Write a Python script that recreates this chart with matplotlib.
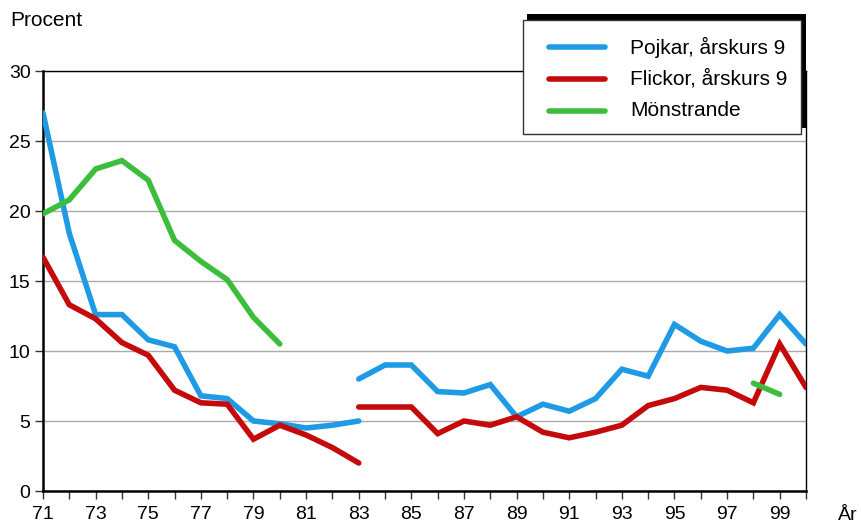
import matplotlib.pyplot as plt
from matplotlib.patches import Rectangle
from matplotlib.lines import Line2D

plt.rcParams['font.family'] = ['Liberation Sans', 'DejaVu Sans']

# serie 1971-1983 och 1983-2000 (brott i serien 1983)
ar_1 = list(range(71, 84))
pojkar_1 = [27.0, 18.4, 12.6, 12.6, 10.8, 10.3, 6.8, 6.6, 5.0, 4.8, 4.5, 4.7, 5.0]
flickor_1 = [16.7, 13.3, 12.3, 10.6, 9.7, 7.2, 6.3, 6.2, 3.7, 4.7, 4.0, 3.1, 2.0]

ar_2 = list(range(83, 101))
pojkar_2 = [8.0, 9.0, 9.0, 7.1, 7.0, 7.6, 5.3, 6.2, 5.7, 6.6, 8.7, 8.2, 11.9, 10.7, 10.0, 10.2, 12.6, 10.5]
flickor_2 = [6.0, 6.0, 6.0, 4.1, 5.0, 4.7, 5.3, 4.2, 3.8, 4.2, 4.7, 6.1, 6.6, 7.4, 7.2, 6.3, 10.5, 7.4]

ar_m1 = list(range(71, 81))
monstrande_1 = [19.8, 20.8, 23.0, 23.6, 22.2, 17.9, 16.4, 15.1, 12.4, 10.5]
ar_m2 = [98, 99]
monstrande_2 = [7.7, 6.9]

serier = ['Pojkar, årskurs 9', 'Flickor, årskurs 9', 'Mönstrande']
farger = ['#1f9be6', '#c40a0a', '#3cbe3c']

fig = plt.figure(figsize=(8.62, 5.24), dpi=100)
ax = fig.add_axes([43/862, 33/524, (806-43)/862, (491-71)/524])

lw = 4
kw = dict(linewidth=lw, solid_capstyle='round', solid_joinstyle='miter', zorder=3)
ax.plot(ar_1, pojkar_1, color=farger[0], **kw)
ax.plot(ar_2, pojkar_2, color=farger[0], **kw)
ax.plot(ar_1, flickor_1, color=farger[1], **kw)
ax.plot(ar_2, flickor_2, color=farger[1], **kw)
ax.plot(ar_m1, monstrande_1, color=farger[2], **kw)
ax.plot(ar_m2, monstrande_2, color=farger[2], **kw)

ax.set_xlim(71, 100)
ax.set_ylim(0, 30)
ax.set_xticks(range(71, 101))
ax.set_xticklabels([str(a) if a % 2 == 1 else '' for a in range(71, 101)])
ax.set_yticks(range(0, 31, 5))
ax.tick_params(axis='both', length=6, width=1, labelsize=14, color='#333333')
ax.tick_params(axis='x', pad=5)
ax.tick_params(axis='y', pad=3)
ax.yaxis.grid(True, color='#aaaaaa', linewidth=1)
ax.set_axisbelow(True)

for s in ['left', 'bottom']:
    ax.spines[s].set_linewidth(1.8)
for s in ['top', 'right']:
    ax.spines[s].set_linewidth(1)

fig.text(10/862, 1 - 20/524, 'Procent', fontsize=15, va='center', ha='left')
fig.text(838/862, 1 - 516/524, 'År', fontsize=14, va='center', ha='left')

# förklaring med skugga
W, H = 862, 524
fig.add_artist(Rectangle((527/W, 1 - 128/H), 279/W, 114/H, transform=fig.transFigure,
                         facecolor='black', edgecolor='none', zorder=4))
fig.add_artist(Rectangle((523/W, 1 - 134/H), 278/W, 114/H, transform=fig.transFigure,
                         facecolor='white', edgecolor='#333333', linewidth=1, zorder=5))
for i, (namn, farg) in enumerate(zip(serier, farger)):
    y = 1 - (47 + 32 * i) / H
    fig.add_artist(Line2D([549/W, 605/W], [y, y], transform=fig.transFigure, color=farg,
                          linewidth=lw, solid_capstyle='round', zorder=6))
    fig.text(630/W, y, namn, fontsize=15, va='center', ha='left', zorder=6)

fig.savefig('out.png', dpi=100)
